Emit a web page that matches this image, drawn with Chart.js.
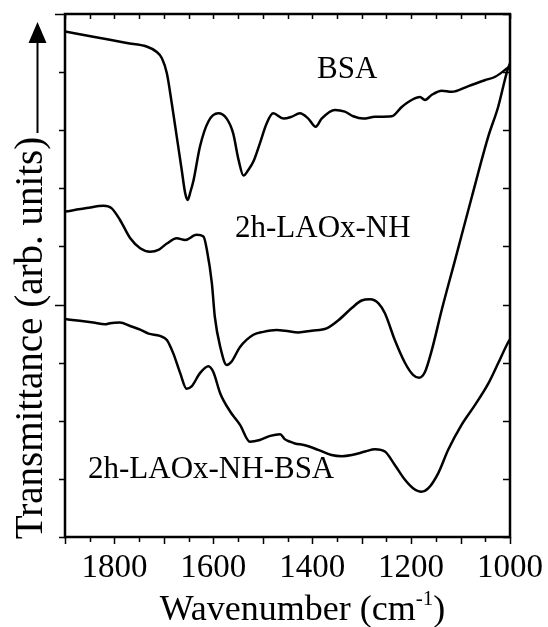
<!DOCTYPE html>
<html>
<head>
<meta charset="utf-8">
<script src="https://cdn.jsdelivr.net/npm/chart.js@4.4.0/dist/chart.umd.min.js"></script>
<style>
  html, body { margin: 0; padding: 0; background: #fff; }
  #wrap { width: 548px; height: 627px; }
</style>
</head>
<body>
<div id="wrap"><canvas id="irChart"></canvas></div>
<script>
// wavenumbers (cm-1) and transmittance (arb. units, offset per curve)
const bsaWn = [1900, 1843, 1775, 1735, 1715, 1704, 1694, 1684, 1674, 1664, 1657, 1652, 1646, 1640, 1627, 1610, 1590, 1573, 1560, 1549, 1539, 1529, 1519, 1506, 1492, 1479, 1458, 1442, 1425, 1408, 1393, 1381, 1354, 1334, 1317, 1297, 1273, 1239, 1219, 1199, 1182, 1172, 1158, 1138, 1118, 1084, 1051, 1030, 1005, 1000];
const bsaT  = [8.70, 8.61, 8.50, 8.44, 8.35, 8.24, 7.98, 7.46, 6.89, 6.32, 5.92, 5.80, 5.95, 6.14, 6.72, 7.15, 7.29, 7.20, 6.95, 6.49, 6.22, 6.32, 6.46, 6.77, 7.12, 7.29, 7.20, 7.23, 7.29, 7.20, 7.06, 7.20, 7.35, 7.32, 7.24, 7.20, 7.23, 7.24, 7.40, 7.52, 7.57, 7.52, 7.61, 7.68, 7.66, 7.76, 7.86, 7.92, 8.07, 8.10];

const nhWn = [1900, 1856, 1822, 1806, 1789, 1768, 1748, 1728, 1711, 1694, 1674, 1657, 1634, 1620, 1613, 1603, 1597, 1586, 1573, 1563, 1546, 1519, 1499, 1472, 1455, 1428, 1401, 1371, 1347, 1320, 1300, 1283, 1266, 1253, 1233, 1212, 1196, 1184, 1172, 1158, 1138, 1111, 1077, 1044, 1024, 1005, 1000];
const nhT  = [5.60, 5.66, 5.70, 5.66, 5.46, 5.14, 4.97, 4.91, 4.94, 5.05, 5.14, 5.11, 5.20, 5.17, 4.94, 4.37, 3.79, 3.27, 2.96, 3.02, 3.27, 3.48, 3.53, 3.56, 3.55, 3.52, 3.55, 3.59, 3.73, 3.94, 4.07, 4.09, 4.02, 3.85, 3.39, 2.99, 2.79, 2.74, 2.84, 3.22, 3.91, 4.77, 5.86, 6.89, 7.40, 8.04, 8.15];

const nhBsaWn = [1900, 1870, 1843, 1819, 1809, 1789, 1768, 1748, 1731, 1708, 1694, 1681, 1667, 1654, 1644, 1627, 1610, 1600, 1586, 1566, 1546, 1526, 1506, 1485, 1465, 1455, 1445, 1435, 1415, 1388, 1361, 1340, 1320, 1293, 1273, 1253, 1233, 1212, 1196, 1179, 1165, 1145, 1125, 1098, 1071, 1044, 1024, 1005, 1000];
const nhBsaT  = [3.75, 3.72, 3.69, 3.66, 3.68, 3.69, 3.63, 3.57, 3.50, 3.46, 3.39, 3.16, 2.82, 2.55, 2.59, 2.82, 2.94, 2.84, 2.47, 2.16, 1.93, 1.64, 1.67, 1.74, 1.77, 1.68, 1.64, 1.61, 1.58, 1.50, 1.41, 1.39, 1.41, 1.47, 1.51, 1.47, 1.24, 0.98, 0.84, 0.78, 0.84, 1.10, 1.50, 1.93, 2.27, 2.64, 2.99, 3.33, 3.40];

const xTickLabels = [1800, 1600, 1400, 1200, 1000];
const curveNames = ['BSA', '2h-LAOx-NH', '2h-LAOx-NH-BSA'];

const serif = '"Liberation Serif", "Times New Roman", serif';

function toPoints(wn, t) {
    return wn.map((w, i) => ({ x: w, y: t[i] }));
}

function lineSet(label, wn, t) {
    return {
        label: label,
        data: toPoints(wn, t),
        borderColor: '#000',
        borderWidth: 2.5,
        pointRadius: 0,
        fill: false,
        cubicInterpolationMode: 'monotone'
    };
}

//---frame, ticks, titles and curve names
const decor = {
    id: 'decor',
    afterDraw(chart) {
        const { ctx, chartArea: a, scales: { x, y } } = chart;
        ctx.save();
        ctx.strokeStyle = '#000';
        ctx.fillStyle = '#000';
        ctx.lineWidth = 2.5;
        ctx.strokeRect(a.left, a.top, a.right - a.left, a.bottom - a.top);

        ctx.lineWidth = 1.5;
        ctx.beginPath();
        x.ticks.forEach(t => {
            const px = Math.round(x.getPixelForValue(t.value)) + 0.5;
            ctx.moveTo(px, a.bottom);
            ctx.lineTo(px, a.bottom + (t.value % 100 === 0 ? 7 : 5));
            ctx.moveTo(px, a.top);
            ctx.lineTo(px, a.top + 5);
        });
        y.ticks.forEach(t => {
            const py = Math.round(y.getPixelForValue(t.value)) + 0.5;
            ctx.moveTo(a.left, py);
            ctx.lineTo(a.left - (t.value % 5 === 4 ? 10 : 6), py);
            ctx.moveTo(a.right, py);
            ctx.lineTo(a.right - 7, py);
        });
        ctx.stroke();

        // curve names
        ctx.font = '31px ' + serif;
        ctx.textAlign = 'left';
        ctx.textBaseline = 'alphabetic';
        ctx.fillText(curveNames[0], 317, 78);
        ctx.fillText(curveNames[1], 235, 237);
        ctx.fillText(curveNames[2], 88, 478);

        // x title with superscript
        const big = '36px ' + serif, small = '21px ' + serif;
        const p1 = 'Wavenumber (cm', p2 = '-1', p3 = ')';
        ctx.font = big;
        const w1 = ctx.measureText(p1).width, w3 = ctx.measureText(p3).width;
        ctx.font = small;
        const w2 = ctx.measureText(p2).width;
        let tx = (a.left + a.right) / 2 + 15 - (w1 + w2 + w3) / 2;
        const base = 620;
        ctx.font = big;
        ctx.fillText(p1, tx, base);
        ctx.font = small;
        ctx.fillText(p2, tx + w1, base - 15);
        ctx.font = big;
        ctx.fillText(p3, tx + w1 + w2, base);

        // y title with arrow
        ctx.save();
        ctx.translate(42, 338);
        ctx.rotate(-Math.PI / 2);
        ctx.font = '39px ' + serif;
        ctx.textAlign = 'center';
        ctx.fillText('Transmittance (arb. units)', 0, 0);
        ctx.restore();

        ctx.lineWidth = 2;
        ctx.beginPath();
        ctx.moveTo(37.5, 133);
        ctx.lineTo(37.5, 40);
        ctx.stroke();
        ctx.beginPath();
        ctx.moveTo(37.5, 22);
        ctx.lineTo(28.5, 43);
        ctx.lineTo(46.5, 43);
        ctx.closePath();
        ctx.fill();
        ctx.restore();
    }
};

var ctx = document.getElementById('irChart').getContext('2d');
var irChart = new Chart(ctx, {
    type: 'line',
    data: {
        datasets: [
            lineSet(curveNames[0], bsaWn, bsaT),
            lineSet(curveNames[1], nhWn, nhT),
            lineSet(curveNames[2], nhBsaWn, nhBsaT)
        ]
    },
    options: {
        responsive: true,
        maintainAspectRatio: false,
        animation: false,
        layout: { padding: { top: 14, right: 38, left: 0, bottom: 0 } },
        plugins: {
            legend: { display: false },
            tooltip: { enabled: false }
        },
        scales: {
            x: {
                type: 'linear',
                reverse: true,
                min: 1000,
                max: 1900,
                grid: { display: false, drawTicks: false },
                border: { display: false },
                ticks: {
                    stepSize: 50,
                    autoSkip: false,
                    maxRotation: 0,
                    padding: 12,
                    color: '#000',
                    font: { family: serif, size: 33 },
                    callback: v => xTickLabels.includes(v) ? String(v) : ''
                },
                afterFit: s => { s.height = 90; s.paddingLeft = 0; s.paddingRight = 0; }
            },
            y: {
                min: 0,
                max: 9,
                grid: { display: false, drawTicks: false },
                border: { display: false },
                ticks: { stepSize: 1, display: false },
                afterFit: s => { s.width = 65; s.paddingTop = 0; s.paddingBottom = 0; }
            }
        }
    },
    plugins: [decor]
});
</script>
</body>
</html>
